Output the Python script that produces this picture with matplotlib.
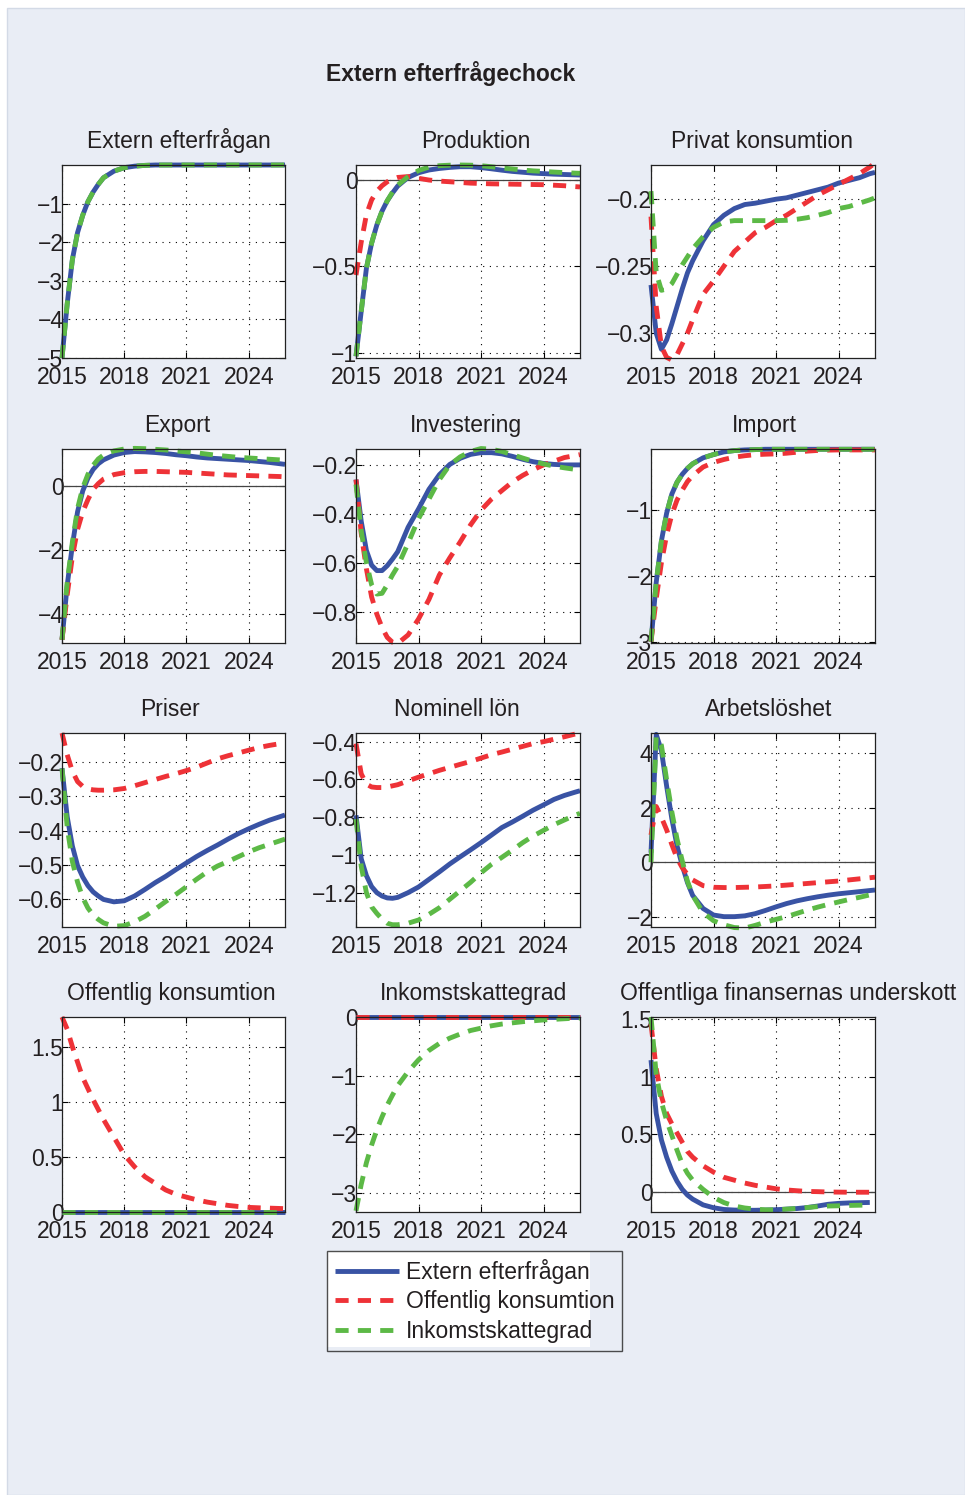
import matplotlib
matplotlib.use('Agg')
import matplotlib.pyplot as plt
import numpy as np
from matplotlib.patches import Rectangle
from matplotlib.ticker import FixedLocator, FuncFormatter

plt.rcParams['font.family'] = ['Liberation Sans', 'DejaVu Sans']

# ---------------- data ----------------
years = [2015, 2015.25, 2015.5, 2015.75, 2016, 2016.25, 2016.5, 2016.75, 2017,
         2017.5, 2018, 2018.5, 2019, 2019.5, 2020, 2020.5, 2021, 2021.5, 2022,
         2022.5, 2023, 2023.5, 2024, 2024.5, 2025, 2025.5, 2025.75]

legend_labels = ['Extern efterfrågan', 'Offentlig konsumtion', 'Inkomstskattegrad']
panel_titles = ['Extern efterfrågan', 'Produktion', 'Privat konsumtion',
                'Export', 'Investering', 'Import',
                'Priser', 'Nominell lön', 'Arbetslöshet',
                'Offentlig konsumtion', 'Inkomstskattegrad',
                'Offentliga finansernas underskott']
main_title = 'Extern efterfrågechock'
xtick_values = [2015, 2018, 2021, 2024]

# 1 Extern efterfrågan (red series not visible in this panel)
ext_blue = [-5.0, -3.6, -2.45, -1.75, -1.3, -0.95, -0.7, -0.5, -0.33, -0.16, -0.07, -0.03, -0.01,
            0, 0, 0, 0, 0, 0, 0, 0, 0, 0, 0, 0, 0, 0]
ext_red = [np.nan] * 27
ext_green = list(ext_blue)

# 2 Produktion
prod_blue = [-1.02, -0.76, -0.51, -0.365, -0.26, -0.18, -0.12, -0.075, -0.035, 0.015, 0.042, 0.058,
             0.067, 0.073, 0.077, 0.077, 0.072, 0.065, 0.057, 0.05, 0.045, 0.04, 0.037, 0.034,
             0.032, 0.03, 0.029]
prod_red = [-0.55, -0.36, -0.2, -0.115, -0.065, -0.033, -0.01, 0.005, 0.015, 0.02, 0.01, 0.0,
            -0.006, -0.01, -0.014, -0.018, -0.02, -0.022, -0.023, -0.024, -0.025, -0.026, -0.027,
            -0.03, -0.033, -0.038, -0.04]
prod_green = [-1.02, -0.76, -0.51, -0.365, -0.26, -0.18, -0.12, -0.07, -0.03, 0.02, 0.055, 0.075,
              0.083, 0.086, 0.087, 0.086, 0.083, 0.077, 0.07, 0.064, 0.058, 0.053, 0.05, 0.046,
              0.043, 0.04, 0.039]

# 3 Privat konsumtion
kons_blue = [-0.264, -0.30, -0.312, -0.305, -0.293, -0.28, -0.267, -0.255, -0.246, -0.231, -0.219,
             -0.212, -0.207, -0.204, -0.203, -0.2015, -0.2, -0.199, -0.197, -0.195, -0.193, -0.191,
             -0.188, -0.186, -0.184, -0.181, -0.18]
kons_red = [-0.213, -0.28, -0.31, -0.318, -0.32, -0.316, -0.308, -0.30, -0.29, -0.271, -0.261,
            -0.25, -0.239, -0.232, -0.225, -0.221, -0.216, -0.212, -0.207, -0.202, -0.197, -0.193,
            -0.189, -0.185, -0.181, -0.176, -0.173]
kons_green = [-0.194, -0.255, -0.268, -0.267, -0.263, -0.256, -0.249, -0.243, -0.237, -0.228,
              -0.221, -0.217, -0.216, -0.216, -0.216, -0.216, -0.216, -0.2158, -0.215, -0.2138,
              -0.212, -0.21, -0.207, -0.2055, -0.203, -0.2005, -0.199]

# 4 Export
exp_blue = [-4.8, -3.1, -1.85, -0.8, -0.15, 0.25, 0.52, 0.7, 0.82, 0.97, 1.05, 1.08, 1.07, 1.05,
            1.02, 0.98, 0.95, 0.91, 0.88, 0.86, 0.84, 0.82, 0.8, 0.77, 0.74, 0.7, 0.68]
exp_red = [-4.8, -3.4, -2.2, -1.35, -0.8, -0.42, -0.1, 0.08, 0.22, 0.36, 0.42, 0.45, 0.46, 0.46,
           0.45, 0.44, 0.43, 0.41, 0.39, 0.37, 0.35, 0.34, 0.33, 0.32, 0.31, 0.3, 0.29]
exp_green = [-4.8, -3.0, -1.75, -0.7, -0.05, 0.37, 0.65, 0.85, 0.97, 1.1, 1.16, 1.18, 1.17, 1.15,
             1.13, 1.1, 1.07, 1.04, 1.0, 0.96, 0.93, 0.9, 0.88, 0.86, 0.84, 0.82, 0.8]

# 5 Investering
inv_blue = [-0.26, -0.43, -0.55, -0.61, -0.632, -0.632, -0.612, -0.585, -0.555, -0.455, -0.38,
            -0.3, -0.24, -0.198, -0.173, -0.157, -0.15, -0.15, -0.155, -0.165, -0.177, -0.187,
            -0.194, -0.198, -0.2, -0.2, -0.2]
inv_red = [-0.26, -0.48, -0.625, -0.74, -0.81, -0.865, -0.905, -0.925, -0.93, -0.895, -0.83,
           -0.75, -0.65, -0.58, -0.515, -0.445, -0.385, -0.34, -0.305, -0.27, -0.243, -0.22,
           -0.2, -0.185, -0.17, -0.162, -0.158]
inv_green = [-0.28, -0.47, -0.6, -0.69, -0.728, -0.725, -0.69, -0.65, -0.615, -0.52, -0.42,
             -0.34, -0.26, -0.2, -0.167, -0.145, -0.133, -0.136, -0.145, -0.158, -0.172, -0.185,
             -0.196, -0.205, -0.212, -0.218, -0.22]

# 6 Import
imp_blue = [-3.0, -2.1, -1.47, -1.05, -0.76, -0.58, -0.46, -0.37, -0.3, -0.21, -0.16, -0.12, -0.1,
            -0.09, -0.085, -0.08, -0.08, -0.08, -0.08, -0.08, -0.08, -0.08, -0.08, -0.08, -0.08,
            -0.08, -0.08]
imp_red = [-3.0, -2.35, -1.8, -1.38, -1.07, -0.85, -0.7, -0.57, -0.48, -0.35, -0.28, -0.235, -0.2,
           -0.178, -0.162, -0.155, -0.15, -0.14, -0.125, -0.108, -0.098, -0.093, -0.09, -0.09,
           -0.09, -0.09, -0.09]
imp_green = list(imp_blue)

# 7 Priser
pris_blue = [-0.219, -0.36, -0.445, -0.502, -0.535, -0.56, -0.578, -0.59, -0.6, -0.607, -0.604,
             -0.59, -0.571, -0.551, -0.533, -0.513, -0.494, -0.475, -0.458, -0.442, -0.425,
             -0.409, -0.395, -0.382, -0.37, -0.36, -0.355]
pris_red = [-0.117, -0.18, -0.228, -0.258, -0.272, -0.279, -0.282, -0.283, -0.283, -0.282, -0.278,
            -0.27, -0.261, -0.252, -0.243, -0.235, -0.226, -0.216, -0.204, -0.192, -0.183, -0.175,
            -0.167, -0.159, -0.153, -0.148, -0.146]
pris_green = [-0.22, -0.39, -0.49, -0.55, -0.595, -0.625, -0.645, -0.658, -0.668, -0.678, -0.676,
              -0.665, -0.649, -0.628, -0.606, -0.585, -0.563, -0.541, -0.52, -0.503, -0.49,
              -0.476, -0.462, -0.45, -0.44, -0.43, -0.425]

# 8 Nominell lön
lon_blue = [-0.79, -1.02, -1.11, -1.168, -1.2, -1.218, -1.228, -1.23, -1.225, -1.2, -1.17, -1.13,
            -1.09, -1.048, -1.01, -0.973, -0.935, -0.895, -0.855, -0.826, -0.795, -0.763, -0.735,
            -0.706, -0.685, -0.668, -0.66]
lon_red = [-0.41, -0.57, -0.625, -0.64, -0.643, -0.643, -0.64, -0.634, -0.628, -0.608, -0.588,
           -0.57, -0.552, -0.536, -0.52, -0.505, -0.487, -0.469, -0.455, -0.44, -0.425, -0.41,
           -0.4, -0.387, -0.374, -0.36, -0.353]
lon_green = [-0.81, -1.06, -1.2, -1.275, -1.31, -1.34, -1.362, -1.37, -1.37, -1.362, -1.345,
             -1.315, -1.28, -1.235, -1.19, -1.145, -1.095, -1.05, -1.013, -0.975, -0.935, -0.9,
             -0.87, -0.84, -0.815, -0.79, -0.78]

# 9 Arbetslöshet
arb_blue = [0.35, 4.7, 4.1, 2.8, 1.6, 0.6, -0.12, -0.75, -1.22, -1.7, -1.94, -2.0, -2.0, -1.97,
            -1.89, -1.77, -1.64, -1.52, -1.42, -1.34, -1.27, -1.21, -1.16, -1.12, -1.08, -1.04,
            -1.02]
arb_red = [1.0, 2.05, 1.65, 1.19, 0.65, 0.15, -0.2, -0.45, -0.65, -0.86, -0.92, -0.93, -0.93,
           -0.92, -0.91, -0.89, -0.87, -0.84, -0.81, -0.78, -0.75, -0.72, -0.69, -0.65, -0.61,
           -0.57, -0.55]
arb_green = [0.0, 4.6, 4.3, 3.03, 1.85, 0.85, 0.05, -0.7, -1.22, -1.85, -2.15, -2.3, -2.4, -2.42,
             -2.32, -2.2, -2.1, -2.0, -1.88, -1.76, -1.65, -1.55, -1.46, -1.37, -1.29, -1.2, -1.16]

# 10 Offentlig konsumtion
ok_blue = [0] * 27
ok_red = [1.77, 1.66, 1.5, 1.36, 1.22, 1.12, 1.02, 0.93, 0.84, 0.68, 0.52, 0.41, 0.32, 0.26, 0.2,
          0.16, 0.135, 0.11, 0.09, 0.075, 0.06, 0.05, 0.042, 0.038, 0.035, 0.032, 0.03]
ok_green = [0] * 27

# 11 Inkomstskattegrad
ink_blue = [0] * 27
ink_red = [0] * 27
ink_green = [-3.3, -2.85, -2.48, -2.18, -1.92, -1.7, -1.5, -1.33, -1.17, -0.93, -0.73, -0.57,
             -0.45, -0.36, -0.29, -0.23, -0.19, -0.15, -0.12, -0.1, -0.08, -0.065, -0.05, -0.04,
             -0.03, -0.02, -0.018]

# 12 Offentliga finansernas underskott
und_blue = [1.145, 0.68, 0.45, 0.30, 0.18, 0.09, 0.02, -0.03, -0.065, -0.115, -0.14, -0.155,
            -0.16, -0.162, -0.162, -0.16, -0.157, -0.152, -0.147, -0.138, -0.125, -0.11, -0.102,
            -0.098, -0.096, -0.094, np.nan]
und_red = [1.46, 1.07, 0.83, 0.68, 0.59, 0.51, 0.43, 0.35, 0.3, 0.225, 0.17, 0.125, 0.1, 0.075,
           0.055, 0.04, 0.025, 0.015, 0.008, 0.002, 0.0, -0.003, -0.004, -0.005, -0.005, -0.005,
           np.nan]
und_green = [1.52, 1.02, 0.78, 0.62, 0.49, 0.36, 0.24, 0.16, 0.1, 0.02, -0.05, -0.095, -0.125,
             -0.142, -0.152, -0.158, -0.158, -0.152, -0.146, -0.138, -0.13, -0.125, -0.123, -0.12,
             -0.118, -0.116, np.nan]

series = [
    (ext_blue, ext_red, ext_green),
    (prod_blue, prod_red, prod_green),
    (kons_blue, kons_red, kons_green),
    (exp_blue, exp_red, exp_green),
    (inv_blue, inv_red, inv_green),
    (imp_blue, imp_red, imp_green),
    (pris_blue, pris_red, pris_green),
    (lon_blue, lon_red, lon_green),
    (arb_blue, arb_red, arb_green),
    (ok_blue, ok_red, ok_green),
    (ink_blue, ink_red, ink_green),
    (und_blue, und_red, und_green),
]

ytick_sets = [
    [-5, -4, -3, -2, -1], [-1, -0.5, 0], [-0.3, -0.25, -0.2],
    [-4, -2, 0], [-0.8, -0.6, -0.4, -0.2], [-3, -2, -1],
    [-0.6, -0.5, -0.4, -0.3, -0.2], [-1.2, -1, -0.8, -0.6, -0.4], [-2, 0, 2, 4],
    [0, 0.5, 1, 1.5], [-3, -2, -1, 0], [0, 0.5, 1, 1.5],
]
ylims = [
    (-5, 0), (-1.03, 0.087), (-0.3185, -0.1745),
    (-4.9, 1.16), (-0.928, -0.135), (-3.02, -0.076),
    (-0.68, -0.117), (-1.382, -0.354), (-2.38, 4.75),
    (0, 1.77), (-3.32, 0), (-0.177, 1.52),
]
zero_line = [False, True, False, True, False, False, False, False, True, False, False, True]

# ---------------- styling / layout ----------------
W, H = 965, 1495
BLUE = '#3953a4'
RED = '#ee3237'
GREEN = '#5cb946'
BG = '#e9edf5'
TXT = '#231f20'
FS = 16.5
LW = 3.5
DASH = (2.7, 1.9)

fig = plt.figure(figsize=(W / 100, H / 100), dpi=100, facecolor='white')
fig.patches.append(Rectangle((7 / W, 0), 1 - 7 / W, 1 - 8 / H, transform=fig.transFigure,
                             facecolor=BG, edgecolor='#d3dae6', lw=1, zorder=-10))

cols_px = [(62, 285), (356, 580), (651, 875)]
rows_px = [(165, 358), (449, 643), (733, 927), (1017, 1212)]
title_dx = [5, 8, -1, 4, -2, 1, -4, -11, 6, -2, 5, 25]

fmt = FuncFormatter(lambda v, p: ('%g' % v).replace('-', '\u2212'))

handles = None
for i, (b, r, g) in enumerate(series):
    rr, cc = divmod(i, 3)
    x0, x1 = cols_px[cc]
    y0, y1 = rows_px[rr]
    ax = fig.add_axes([x0 / W, 1 - y1 / H, (x1 - x0) / W, (y1 - y0) / H])
    ax.set_zorder(2)
    ax.set_facecolor('white')
    if zero_line[i]:
        ax.axhline(0, color='#444444', lw=0.9, zorder=2)
    lb, = ax.plot(years, b, color=BLUE, lw=LW, solid_capstyle='butt', zorder=3, clip_on=False)
    lr, = ax.plot(years, r, color=RED, lw=LW, dashes=DASH, dash_capstyle='butt',
                  zorder=4, clip_on=False)
    lg, = ax.plot(years, g, color=GREEN, lw=LW, dashes=DASH, dash_capstyle='butt',
                  zorder=5, clip_on=False)
    if handles is None:
        handles = [lb, lr, lg]
    ax.set_xlim(2015, 2025.75)
    ax.set_ylim(*ylims[i])
    ax.xaxis.set_major_locator(FixedLocator(xtick_values))
    ax.set_xticklabels([str(v) for v in xtick_values])
    ax.yaxis.set_major_locator(FixedLocator(ytick_sets[i]))
    ax.yaxis.set_major_formatter(fmt)
    ax.tick_params(direction='in', length=4, width=0.8, labelsize=FS, colors='black',
                   labelcolor=TXT, top=True, right=True)
    ax.tick_params(axis='y', pad=-1)
    ax.tick_params(axis='x', pad=6)
    ax.grid(True, color='black', linestyle=(0, (1, 5)), lw=0.8)
    for s in ax.spines.values():
        s.set_linewidth(0.9)
        s.set_color('#222222')
        s.set_zorder(6)
    ax.set_title(panel_titles[i], fontsize=FS, color=TXT, pad=12,
                 x=0.5 + title_dx[i] / (x1 - x0))

fig.text(451 / W, 1 - 73 / H, main_title, ha='center', va='center', fontsize=FS,
         fontweight='bold', color=TXT)

# legend (white fill only on the left part of the frame, as in the reference)
fig.patches.append(Rectangle((327 / W, 1 - 1347 / H), (590 - 327) / W, 96 / H,
                             transform=fig.transFigure, facecolor='white', edgecolor='none',
                             zorder=1))
leg = fig.legend(handles, legend_labels, loc='upper left',
                 bbox_to_anchor=(327 / W, 1 - 1251 / H), frameon=True, fancybox=False,
                 edgecolor='#222222', facecolor='none', fontsize=FS, handlelength=2.8,
                 handletextpad=0.3, labelspacing=0.3, borderpad=0.33, borderaxespad=0)
leg.get_frame().set_linewidth(1.0)
leg.set_zorder(5)
for t in leg.get_texts():
    t.set_color(TXT)

fig.savefig('out.png', dpi=100, facecolor=fig.get_facecolor())
